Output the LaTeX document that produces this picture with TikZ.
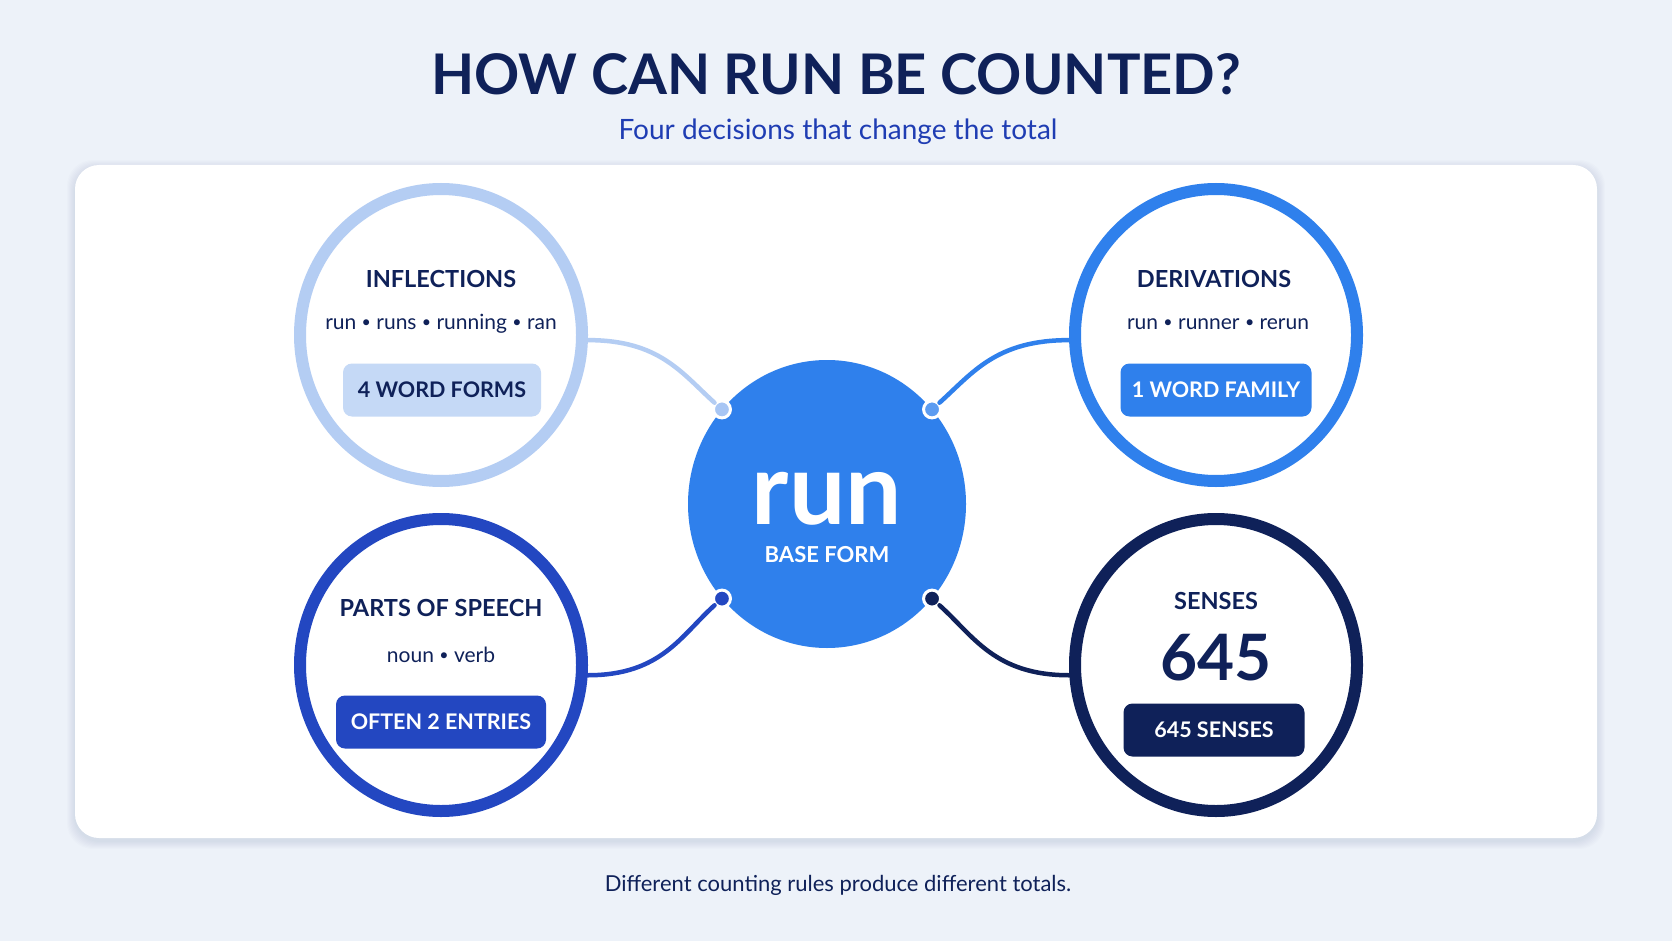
\documentclass[tikz,border=0pt]{standalone}
\usepackage{fontspec}
\setmainfont{Lato}
\usetikzlibrary{calc,shapes.geometric}

\definecolor{bgcol}{HTML}{EDF2F9}
\definecolor{shadowcol}{HTML}{203A70}
\definecolor{navy}{HTML}{0F2159}
\definecolor{pale}{HTML}{B4CDF3}
\definecolor{palepin}{HTML}{A8C6F4}
\definecolor{palefill}{HTML}{C5D9F6}
\definecolor{mid}{HTML}{2F80EC}
\definecolor{midpin}{HTML}{5C9CF1}
\definecolor{royal}{HTML}{2347C1}
\definecolor{subcol}{HTML}{1F3DB3}

\newcommand{\sep}{\raisebox{1.2pt}{\fontsize{16}{16}\selectfont•}}	%small bullet

\tikzset{
	ring/.style={ellipse, draw=#1, line width=12pt, fill=white, minimum width=282pt, minimum height=292pt, inner sep=0pt},
	head/.style={font=\bfseries\fontsize{23.5}{28}\selectfont, text=navy, inner sep=0pt},
	words/.style={font=\fontsize{21}{25}\selectfont, text=navy, anchor=base, inner sep=0pt},
	pill/.style={fill=#1, rounded corners=9pt, minimum height=53pt, inner sep=0pt, font=\bfseries\fontsize{21.5}{26}\selectfont},
	pin/.style={circle, fill=#1, draw=white, line width=3pt, minimum size=17pt, inner sep=0pt},
	link/.style={draw=#1, line width=4.5pt, line cap=round, out looseness=1.3, in looseness=0.8},
}

\begin{document}
\begin{tikzpicture}[x=1pt,y=-1pt]
	\pgfmathsetmacro{\W}{1672}		%picture width
	\pgfmathsetmacro{\H}{941}		%picture height
	\pgfmathsetmacro{\cx}{827}		%centre of the base circle
	\pgfmathsetmacro{\cy}{504}
	\pgfmathsetmacro{\lx}{441}		%left column
	\pgfmathsetmacro{\rx}{1216}		%right column
	\pgfmathsetmacro{\ty}{335}		%top row
	\pgfmathsetmacro{\by}{665}		%bottom row

	\useasboundingbox (0,0) rectangle (\W,\H);
	\fill[bgcol] (0,0) rectangle (\W,\H);

	%panel
	\coordinate (p1) at (75,165);
	\coordinate (p2) at (1597,838);
	\foreach \s in {1,...,8}
		\fill[shadowcol, opacity=0.012, rounded corners=26pt] ($(p1)+(-\s,-\s+3)$) rectangle ($(p2)+(\s,\s+3)$);
	\fill[white, rounded corners=24pt] (p1) rectangle (p2);

	%titles
	\node[font=\bfseries\fontsize{56}{60}\selectfont, text=navy, inner sep=0pt] (title) at (\W/2,74) {HOW CAN RUN BE COUNTED?};
	\node[font=\fontsize{28}{32}\selectfont, text=subcol, anchor=base, inner sep=0pt] (subtitle) at (838,140) {Four decisions that change the total};
	\node[font=\fontsize{22}{26}\selectfont, text=navy, anchor=base, inner sep=0pt] (footer) at (838,891) {Different counting rules produce different totals.};

	%base form
	\node[ellipse, fill=mid, minimum width=278pt, minimum height=288pt, inner sep=0pt] (core) at (\cx,\cy) {};
	\node[font=\bfseries\fontsize{100}{100}\selectfont, text=white, inner sep=0pt] (base) at (\cx,499) {run};
	\node[font=\bfseries\fontsize{22}{26}\selectfont, text=white, inner sep=0pt] (baselabel) at (\cx,555) {BASE FORM};

	%inflections
	\node[ring=pale] (infl) at (\lx,\ty) {};
	\node[head] (inflhead) at ($(infl)+(0,-56)$) {INFLECTIONS};
	\node[words] (inflwords) at ($(infl)+(0,-6)$) {run \sep{} runs \sep{} running \sep{} ran};
	\node[pill=palefill, text=navy, minimum width=198pt] (inflpill) at ($(infl)+(1,55)$) {4 WORD FORMS};

	%derivations
	\node[ring=mid] (deriv) at (\rx,\ty) {};
	\node[head] (derivhead) at ($(deriv)+(-2,-56)$) {DERIVATIONS};
	\node[words] (derivwords) at ($(deriv)+(2,-6)$) {run \sep{} runner \sep{} rerun};
	\node[pill=mid, text=white, minimum width=191pt] (derivpill) at ($(deriv)+(0,55)$) {1 WORD FAMILY};

	%parts of speech
	\node[ring=royal] (pos) at (\lx,\by) {};
	\node[head] (poshead) at ($(pos)+(0,-57)$) {PARTS OF SPEECH};
	\node[words] (poswords) at ($(pos)+(0,-3)$) {noun \sep{} verb};
	\node[pill=royal, text=white, minimum width=210pt] (pospill) at ($(pos)+(0,57)$) {OFTEN 2 ENTRIES};

	%senses
	\node[ring=navy] (sense) at (\rx,\by) {};
	\node[head] (sensehead) at ($(sense)+(0,-64)$) {SENSES};
	\node[font=\bfseries\fontsize{64}{70}\selectfont, text=navy, inner sep=0pt] (sensenum) at ($(sense)+(0,-7)$) {645};
	\node[pill=navy, text=white, minimum width=181pt] (sensepill) at ($(sense)+(-2,65)$) {645 SENSES};

	%pins on the base circle
	\node[pin=palepin] (pinTL) at (core.138) {};
	\node[pin=midpin] (pinTR) at (core.42) {};
	\node[pin=royal] (pinBL) at (core.222) {};
	\node[pin=navy] (pinBR) at (core.318) {};

	%connections
	\draw[link=pale] (infl.-2) to[out=0,in=138] (pinTL);
	\draw[link=mid] (deriv.182) to[out=180,in=42] (pinTR);
	\draw[link=royal] (pos.-4) to[out=0,in=222] (pinBL);
	\draw[link=navy] (sense.184) to[out=180,in=318] (pinBR);

\end{tikzpicture}
\end{document}
